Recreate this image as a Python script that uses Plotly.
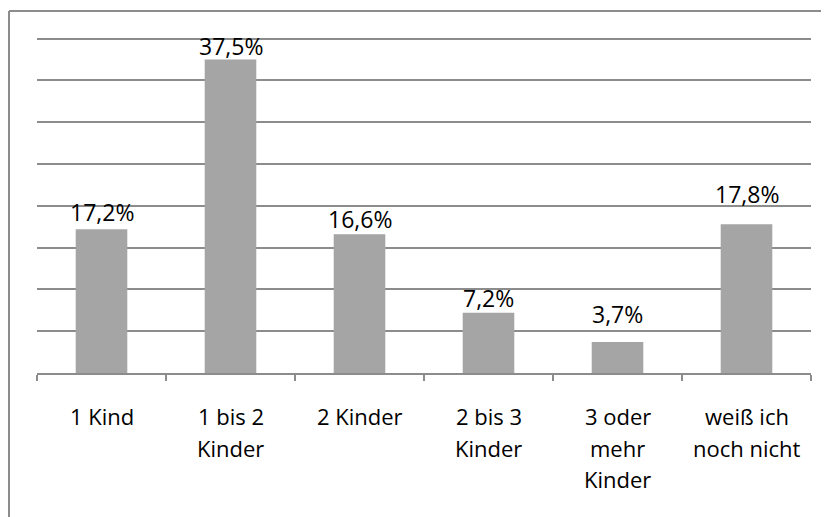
import plotly.graph_objects as go

categories = ["1 Kind", "1 bis 2<br>Kinder", "2 Kinder", "2 bis 3<br>Kinder", "3 oder<br>mehr<br>Kinder", "weiß ich<br>noch nicht"]
values = [17.2, 37.5, 16.6, 7.2, 3.7, 17.8]
value_labels = ["17,2%", "37,5%", "16,6%", "7,2%", "3,7%", "17,8%"]
label_shift = [3, 0, 1, 1, 14, 16]  # extra pixels above bar (style)

# page body has an 8px margin in the browser; compensate in the figure margins
OFF = 8
W, H = 829, 517
L, R, T, B = 37 - OFF, 18 + OFF, 37 - OFF, 144 + OFF
FONT = "Open Sans"
GRID = "#8c8c8c"
LINE_H = 31.5

fig = go.Figure()
fig.add_trace(go.Bar(
    x=categories, y=values,
    marker=dict(color="#a5a5a5", line=dict(width=0)),
    hoverinfo="skip",
))

for c, v, t, s in zip(categories, values, value_labels, label_shift):
    fig.add_annotation(x=c, y=v, text=t, showarrow=False, yanchor="bottom",
                       yshift=s - 4, font=dict(family=FONT, size=23, color="#000000"))

# category labels, one annotation per text line for Excel-like line spacing
for c in categories:
    for i, part in enumerate(c.split("<br>")):
        fig.add_annotation(x=c, xref="x", y=0, yref="paper", text=part, showarrow=False,
                           yanchor="top", yshift=-26 - i * LINE_H,
                           font=dict(family=FONT, size=22, color="#000000"))

pw = W - L - R
ph = H - T - B
bx = (9 - OFF - L) / pw
by = 1 + (T - (11 - OFF)) / ph
fig.add_shape(type="line", xref="paper", yref="paper", x0=bx, x1=bx, y0=by, y1=-2,
              line=dict(color=GRID, width=2))
fig.add_shape(type="line", xref="paper", yref="paper", x0=bx, x1=2, y0=by, y1=by,
              line=dict(color=GRID, width=2))

fig.update_layout(
    width=W, height=H,
    margin=dict(l=L, r=R, t=T, b=B, pad=0),
    paper_bgcolor="white", plot_bgcolor="white",
    bargap=0.6, showlegend=False,
    font=dict(family=FONT, size=22, color="#000000"),
)
fig.update_xaxes(showline=True, linecolor=GRID, linewidth=2,
                 ticks="outside", tickson="boundaries", ticklen=6, tickcolor=GRID, tickwidth=1.5,
                 showticklabels=False, showgrid=False)
fig.update_yaxes(range=[0, 40.2], tick0=0, dtick=5, showgrid=True, gridcolor=GRID, gridwidth=1.5,
                 showticklabels=False, zeroline=False, showline=False, ticks="")

fig.write_html("out.html")
